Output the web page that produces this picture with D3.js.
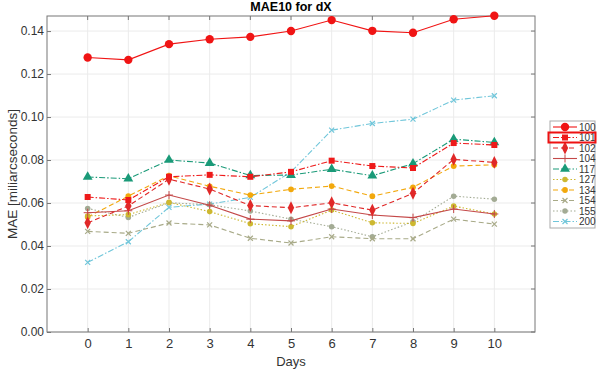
<!DOCTYPE html>
<html>
<head>
<meta charset="utf-8">
<script src="https://cdn.jsdelivr.net/npm/d3@7"></script>
<style>
body { margin: 0; background: #fff; }
text { font-family: "Liberation Sans", Arial, sans-serif; }
</style>
</head>
<body>
<div id="chart"></div>
<script>
var days = [0, 1, 2, 3, 4, 5, 6, 7, 8, 9, 10];
var yTicks = [0, 0.02, 0.04, 0.06, 0.08, 0.10, 0.12, 0.14];

var s100 = [0.1277, 0.1266, 0.1339, 0.1362, 0.1373, 0.1400, 0.1451, 0.1401, 0.1392, 0.1455, 0.1471];
var s101 = [0.0628, 0.0614, 0.0722, 0.0731, 0.0722, 0.0745, 0.0797, 0.0772, 0.0763, 0.0879, 0.0870];
var s102 = [0.0508, 0.0586, 0.0711, 0.0665, 0.0588, 0.0578, 0.0601, 0.0567, 0.0645, 0.0803, 0.0789];
var s104 = [0.0555, 0.0564, 0.0637, 0.0590, 0.0525, 0.0517, 0.0572, 0.0544, 0.0532, 0.0572, 0.0549];
var s117 = [0.0721, 0.0713, 0.0800, 0.0786, 0.0728, 0.0730, 0.0757, 0.0727, 0.0783, 0.0897, 0.0882];
var s127 = [0.0540, 0.0546, 0.0603, 0.0560, 0.0504, 0.0490, 0.0567, 0.0508, 0.0505, 0.0586, 0.0549];
var s134 = [0.0535, 0.0632, 0.0727, 0.0678, 0.0637, 0.0664, 0.0679, 0.0632, 0.0673, 0.0772, 0.0778];
var s154 = [0.0468, 0.0459, 0.0507, 0.0498, 0.0436, 0.0414, 0.0443, 0.0434, 0.0434, 0.0525, 0.0502];
var s155 = [0.0575, 0.0533, 0.0601, 0.0592, 0.0563, 0.0525, 0.0490, 0.0443, 0.0513, 0.0632, 0.0618];
var s200 = [0.0324, 0.0420, 0.0580, 0.0595, 0.0626, 0.0745, 0.0939, 0.0970, 0.0990, 0.1079, 0.1099];

var series = [
  { name: "100", values: s100, color: "#f01414", dash: null, marker: "circle", size: 55 },
  { name: "101", values: s101, color: "#ee1a1a", dash: "6,2,1.5,2", marker: "square", size: 36 },
  { name: "102", values: s102, color: "#e02828", dash: "5,3", marker: "diamond", size: 44 },
  { name: "104", values: s104, color: "#c44848", dash: null, marker: "plus", size: 40 },
  { name: "117", values: s117, color: "#1a9a78", dash: "6,2,1.5,2", marker: "triangle", size: 42 },
  { name: "127", values: s127, color: "#cdb830", dash: "1.5,2", marker: "circle", size: 24 },
  { name: "134", values: s134, color: "#f2a80c", dash: "5,3", marker: "circle", size: 26 },
  { name: "154", values: s154, color: "#a8aa88", dash: "5,3", marker: "cross", size: 22 },
  { name: "155", values: s155, color: "#a3ab94", dash: "1.5,2", marker: "circle", size: 24 },
  { name: "200", values: s200, color: "#70c6da", dash: "6,2,1.5,2", marker: "cross", size: 22 }
];

var width = 600, height = 370;
var margin = { top: 16, right: 65, bottom: 38, left: 47 };

var svg = d3.select("#chart")
    .append("svg")
    .attr("width", width)
    .attr("height", height);

var x = d3.scaleLinear()
    .domain([-1, 11])
    .range([margin.left, width - margin.right]);

var y = d3.scaleLinear()
    .domain([0, 0.147])
    .range([height - margin.bottom, margin.top]);

var plotW = width - margin.right - margin.left;
var plotH = height - margin.bottom - margin.top;

// grid
svg.append("g")
    .selectAll("line")
    .data(days)
    .enter().append("line")
    .attr("x1", d => x(d)).attr("x2", d => x(d))
    .attr("y1", margin.top).attr("y2", height - margin.bottom)
    .attr("stroke", "#ebebeb");

svg.append("g")
    .selectAll("line")
    .data(yTicks)
    .enter().append("line")
    .attr("x1", margin.left).attr("x2", width - margin.right)
    .attr("y1", d => y(d)).attr("y2", d => y(d))
    .attr("stroke", "#ebebeb");

// axes
var xAxis = d3.axisBottom(x).tickValues(days).tickSize(-4).tickPadding(7).tickFormat(d3.format("d"));
var yAxis = d3.axisLeft(y).tickValues(yTicks).tickSize(-4).tickPadding(3).tickFormat(d3.format(".2f"));

svg.append("g")
    .attr("transform", "translate(0," + (height - margin.bottom) + ")")
    .call(xAxis)
    .call(g => g.select(".domain").remove())
    .call(g => g.selectAll("line").attr("stroke", "#777"))
    .call(g => g.selectAll("text").attr("font-size", 13).attr("fill", "#333"));

svg.append("g")
    .attr("transform", "translate(" + margin.left + ",0)")
    .call(yAxis)
    .call(g => g.select(".domain").remove())
    .call(g => g.selectAll("line").attr("stroke", "#777"))
    .call(g => g.selectAll("text").attr("font-size", 12).attr("fill", "#333"));

// inward ticks on top and right
svg.append("g")
    .selectAll("line")
    .data(days)
    .enter().append("line")
    .attr("x1", d => x(d)).attr("x2", d => x(d))
    .attr("y1", margin.top).attr("y2", margin.top + 4)
    .attr("stroke", "#777");

svg.append("g")
    .selectAll("line")
    .data(yTicks)
    .enter().append("line")
    .attr("x1", width - margin.right - 4).attr("x2", width - margin.right)
    .attr("y1", d => y(d)).attr("y2", d => y(d))
    .attr("stroke", "#777");

svg.append("rect")
    .attr("x", margin.left).attr("y", margin.top)
    .attr("width", plotW).attr("height", plotH)
    .attr("fill", "none")
    .attr("stroke", "#777");

// lines
var line = d3.line()
    .x((d, i) => x(days[i]))
    .y(d => y(d));

function symbolFor(m) {
  if (m == "circle") return d3.symbolCircle;
  if (m == "square") return d3.symbolSquare;
  if (m == "diamond") return d3.symbolDiamond;
  if (m == "triangle") return d3.symbolTriangle;
  return d3.symbolTimes;
}

function drawMarker(g, s, cx, cy) {
  if (s.marker == "plus") {
    g.append("path")
      .attr("d", "M-4,0H4M0,-4V4")
      .attr("transform", "translate(" + cx + "," + cy + ")")
      .attr("stroke", s.color).attr("stroke-width", 1).attr("fill", "none");
  } else if (s.marker == "cross") {
    g.append("path")
      .attr("d", "M-2.5,-2.5L2.5,2.5M-2.5,2.5L2.5,-2.5")
      .attr("transform", "translate(" + cx + "," + cy + ")")
      .attr("stroke", s.color).attr("stroke-width", 1.2).attr("fill", "none");
  } else {
    g.append("path")
      .attr("d", d3.symbol().type(symbolFor(s.marker)).size(s.size))
      .attr("transform", "translate(" + cx + "," + cy + ")" + (s.marker == "diamond" ? " scale(0.9,1.05)" : ""))
      .attr("fill", s.color);
  }
}

var drawOrder = series.slice().reverse();
drawOrder.forEach(function (s) {
  var g = svg.append("g");
  g.append("path")
    .datum(s.values)
    .attr("d", line)
    .attr("fill", "none")
    .attr("stroke", s.color)
    .attr("stroke-width", 1.1)
    .attr("stroke-dasharray", s.dash);
  s.values.forEach(function (v, i) {
    drawMarker(g, s, x(days[i]), y(v));
  });
});

// title and labels
svg.append("text")
    .attr("x", margin.left + plotW / 2)
    .attr("y", 11)
    .attr("text-anchor", "middle")
    .attr("font-size", 12.5)
    .attr("font-weight", "bold")
    .text("MAE10 for dX");

svg.append("text")
    .attr("x", margin.left + plotW / 2)
    .attr("y", 366)
    .attr("text-anchor", "middle")
    .attr("font-size", 13)
    .attr("fill", "#333")
    .text("Days");

svg.append("text")
    .attr("transform", "translate(12," + (margin.top + plotH / 2) + ") rotate(-90)")
    .attr("text-anchor", "middle")
    .attr("dy", "0.35em")
    .attr("font-size", 13.5)
    .attr("fill", "#333")
    .text("MAE [miliarcseconds]");

// legend
var legX = 550, legY = 121, rowH = 10.5;
var legend = svg.append("g");
legend.append("rect")
    .attr("x", legX).attr("y", legY)
    .attr("width", 45).attr("height", series.length * rowH + 2)
    .attr("fill", "#fff")
    .attr("stroke", "#aaa");

series.forEach(function (s, i) {
  var cy = legY + 6 + i * rowH;
  legend.append("line")
    .attr("x1", legX + 3).attr("x2", legX + 27)
    .attr("y1", cy).attr("y2", cy)
    .attr("stroke", s.color)
    .attr("stroke-width", 1.1)
    .attr("stroke-dasharray", s.dash);
  drawMarker(legend, s, legX + 15, cy);
  legend.append("text")
    .attr("x", legX + 29)
    .attr("y", cy + 3.5)
    .attr("font-size", 10)
    .attr("fill", "#333")
    .text(s.name);
});

// highlight box around 101
legend.append("rect")
    .attr("x", legX - 1.5)
    .attr("y", legY + 6 + rowH - 5)
    .attr("width", 47)
    .attr("height", 10)
    .attr("fill", "none")
    .attr("stroke", "#ee1111")
    .attr("stroke-width", 2);
</script>
</body>
</html>
